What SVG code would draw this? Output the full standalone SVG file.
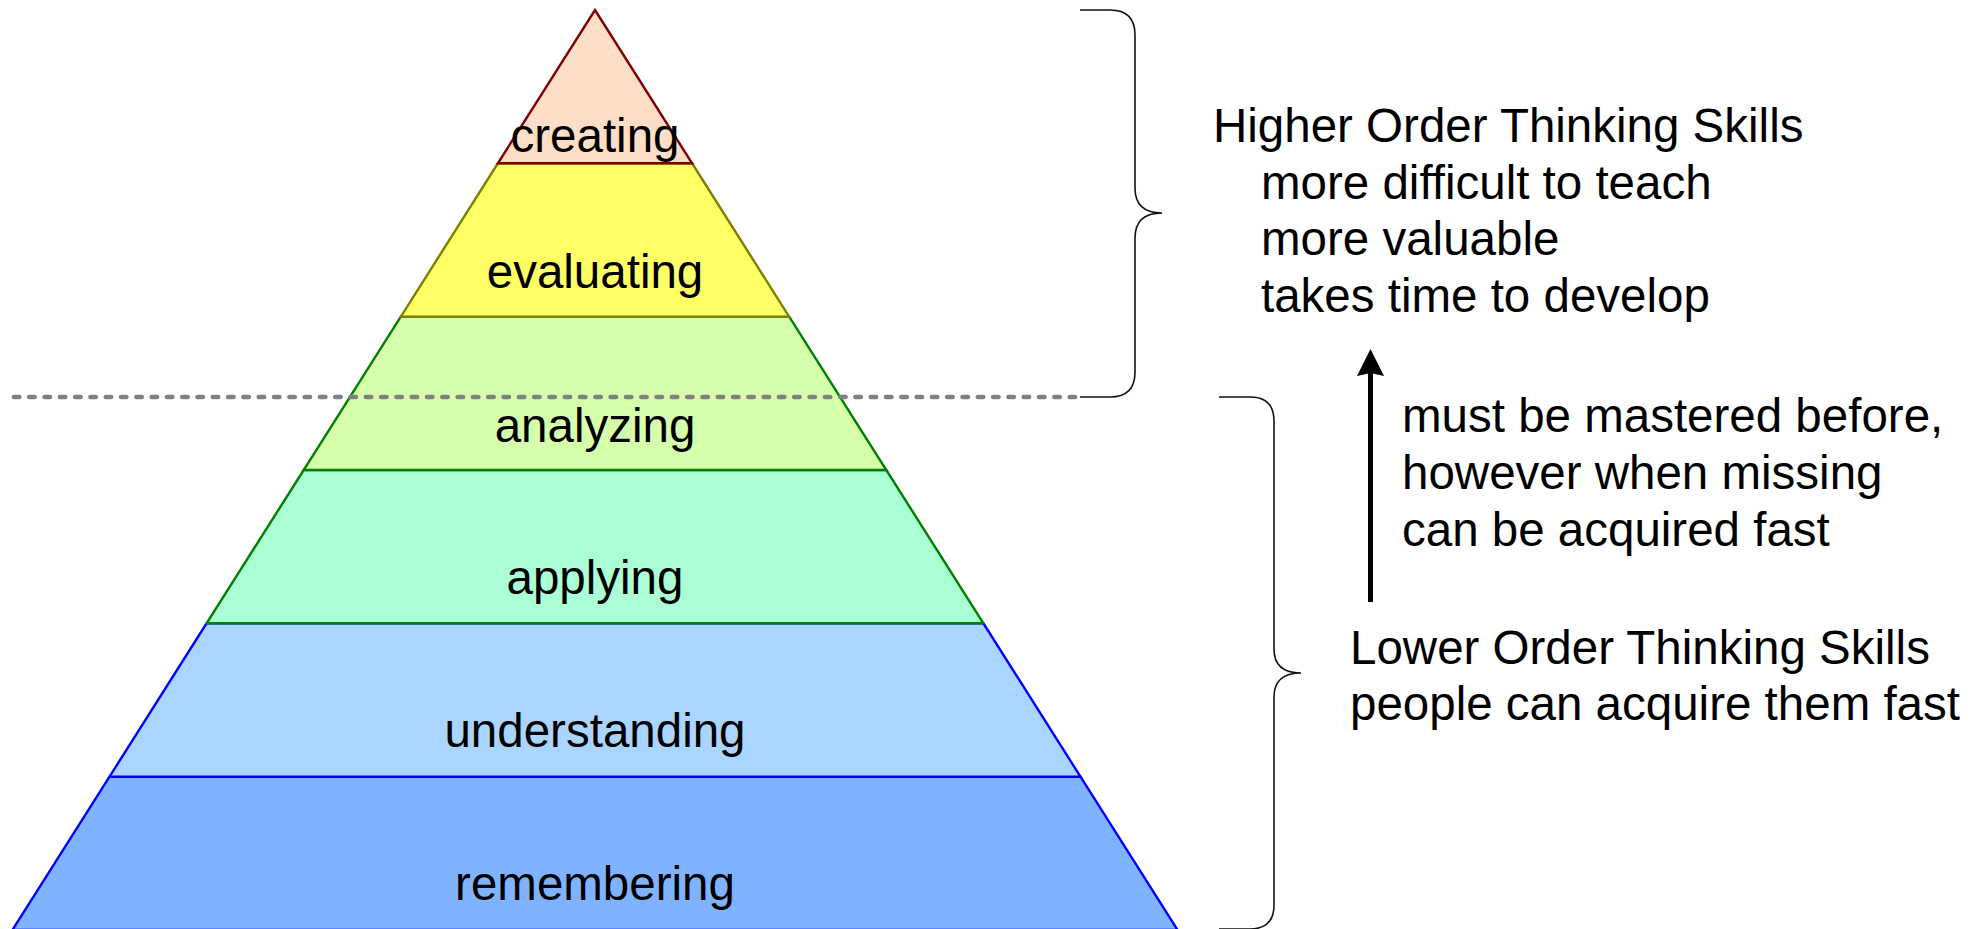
<svg xmlns="http://www.w3.org/2000/svg" width="1981" height="929" viewBox="0 0 1981 929">
<style>
.lvl{stroke-width:2.4;stroke-linejoin:miter}
.lbl{font-family:"Liberation Sans",Arial,sans-serif;font-size:47.5px;fill:#000;text-anchor:middle}
.txt{font-family:"Liberation Sans",Arial,sans-serif;font-size:47.5px;fill:#000}
.brace{fill:none;stroke:#111;stroke-width:1.6}
</style>
<defs>
<marker id="ah" markerUnits="userSpaceOnUse" markerWidth="28" markerHeight="28" refX="17" refY="13.5" orient="auto">
<path d="M0,0 L27,13.5 L0,27 L3,13.5 z" fill="#000"/>
</marker>
</defs>
<rect width="1981" height="929" fill="#fff"/>
<g id="remembering">
<polygon class="lvl" points="109.5,776.7 1080.5,776.7 1177.6,930 12.4,930" fill="#80b3ff" stroke="#0000ff"/>
<text class="lbl" x="595" y="900">remembering</text>
</g>
<g id="understanding">
<polygon class="lvl" points="206.6,623.3 983.4,623.3 1080.5,776.7 109.5,776.7" fill="#aad5ff" stroke="#0000ff"/>
<text class="lbl" x="595" y="747">understanding</text>
</g>
<g id="applying">
<polygon class="lvl" points="303.7,470 886.3,470 983.4,623.3 206.6,623.3" fill="#aaffd5" stroke="#008000"/>
<text class="lbl" x="595" y="594">applying</text>
</g>
<g id="analyzing">
<polygon class="lvl" points="400.8,316.7 789.2,316.7 886.3,470 303.7,470" fill="#d5ffaa" stroke="#008000"/>
<text class="lbl" x="595" y="442">analyzing</text>
</g>
<g id="evaluating">
<polygon class="lvl" points="497.9,163.3 692.1,163.3 789.2,316.7 400.8,316.7" fill="#ffff66" stroke="#808000"/>
<text class="lbl" x="595" y="288">evaluating</text>
</g>
<g id="creating">
<polygon class="lvl" points="595,10 692.1,163.3 497.9,163.3" fill="#ffdec7" stroke="#800000"/>
<text class="lbl" x="595" y="152">creating</text>
</g>
<g id="divider">
<path d="M14,397 H1080" fill="none" stroke="#808080" stroke-width="4.7" stroke-dasharray="5.3 10" stroke-linecap="round"/>
</g>
<g id="connectors">
<path id="brace-higher" class="brace" d="M1080,10 H1110 Q1135,10 1135,35 V188 Q1135,213 1162,213 Q1135,213 1135,238 V372 Q1135,397 1110,397 H1080"/>
<path id="brace-lower" class="brace" d="M1219,397 H1250 Q1274,397 1274,421 V649 Q1274,673 1301,673 Q1274,673 1274,697 V905 Q1274,929 1250,929 H1219"/>
<line id="arrow-up" x1="1370.5" y1="602" x2="1370.5" y2="359" stroke="#000" stroke-width="5" marker-end="url(#ah)"/>
</g>
<g id="higher-order">
<text class="txt" x="1213" y="142">Higher Order Thinking Skills</text>
<text class="txt" x="1261" y="198.5">more difficult to teach</text>
<text class="txt" x="1261" y="255">more valuable</text>
<text class="txt" x="1261" y="311.5">takes time to develop</text>
</g>
<g id="arrow-note">
<text class="txt" x="1402" y="432">must be mastered before,</text>
<text class="txt" x="1402" y="489">however when missing</text>
<text class="txt" x="1402" y="546">can be acquired fast</text>
</g>
<g id="lower-order">
<text class="txt" x="1350" y="664">Lower Order Thinking Skills</text>
<text class="txt" x="1350" y="720">people can acquire them fast</text>
</g>
</svg>
